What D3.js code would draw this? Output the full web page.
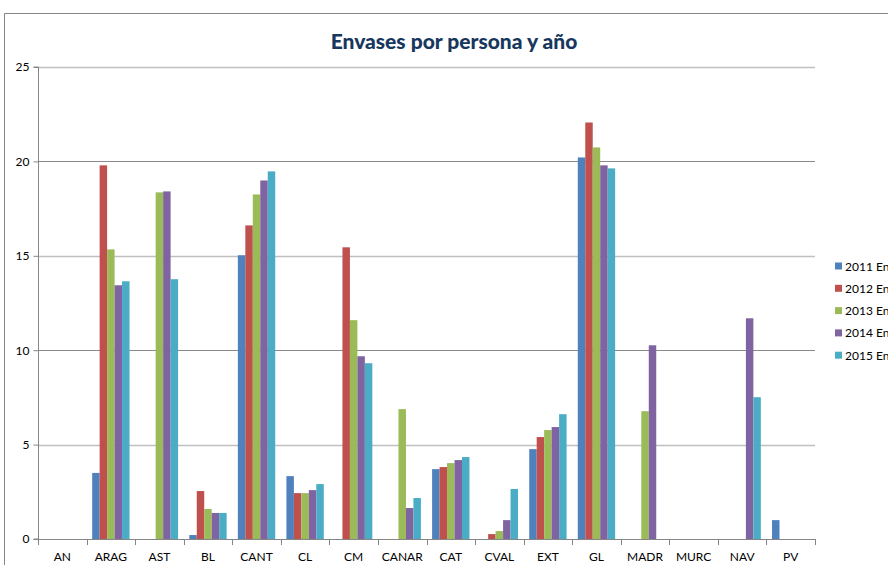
<!DOCTYPE html>
<html><head><meta charset="utf-8">
<script src="https://cdn.jsdelivr.net/npm/d3@7"></script>
<style>html,body{margin:0;padding:0;background:#fff;overflow:hidden}svg{display:block;font-family:Lato,"Open Sans",sans-serif}</style>
</head><body><svg id="c" width="888" height="565"></svg>
<script>
const categories = ["AN","ARAG","AST","BL","CANT","CL","CM","CANAR","CAT","CVAL","EXT","GL","MADR","MURC","NAV","PV"];
const seriesNames = ["2011 Envases","2012 Envases","2013 Envases","2014 Envases","2015 Envases"];
const colors = ["#4F81BD","#C0504D","#9BBB59","#8064A2","#4BACC6"];
const v2011 = [0, 3.5, 0, 0.21, 15.03, 3.33, 0, 0, 3.70, 0, 4.76, 20.21, 0, 0, 0, 1.0];
const v2012 = [0, 19.79, 0, 2.54, 16.61, 2.43, 15.45, 0, 3.81, 0.26, 5.40, 22.06, 0, 0, 0, 0];
const v2013 = [0, 15.34, 18.36, 1.59, 18.25, 2.43, 11.59, 6.88, 4.02, 0.42, 5.77, 20.74, 6.77, 0, 0, 0];
const v2014 = [0, 13.44, 18.41, 1.38, 18.99, 2.59, 9.68, 1.64, 4.18, 1.0, 5.93, 19.79, 10.26, 0, 11.69, 0];
const v2015 = [0, 13.65, 13.76, 1.38, 19.47, 2.91, 9.31, 2.17, 4.34, 2.65, 6.61, 19.63, 0, 0, 7.51, 0];
const yTicks = [0,5,10,15,20,25];
const series = [v2011, v2012, v2013, v2014, v2015];

const svg = d3.select("#c");
const L = 38, R = 815, T = 67, B = 539;

// outer frame
svg.append("path").attr("d","M4.5,565 L4.5,13.5 L888,13.5").attr("fill","none").attr("stroke","#868686").attr("stroke-width",1);

const x = d3.scaleBand().domain(categories).range([L, R]).paddingInner(0).paddingOuter(0);
const y = d3.scaleLinear().domain([0,25]).range([B, T]);
const xs = d3.scaleBand().domain(d3.range(5)).range([x.bandwidth()*0.75/6.5, x.bandwidth()*5.75/6.5]);

// gridlines
svg.append("g").selectAll("line").data(yTicks.filter(d=>d>0)).join("line")
  .attr("x1", L).attr("x2", R)
  .attr("y1", d=>Math.round(y(d))+0.5).attr("y2", d=>Math.round(y(d))+0.5)
  .attr("stroke", d=> (d%10===0) ? "#8a8a8a" : "#c0c0c0")
  .attr("stroke-width", d=> (d%10===0) ? 1 : 1.6);

// bars
const g = svg.append("g");
series.forEach((vals, si) => {
  g.append("g").selectAll("rect").data(categories.map((c,i)=>({c, v: vals[i]})).filter(d=>d.v>0)).join("rect")
    .attr("x", d => x(d.c) + xs(si))
    .attr("width", xs.bandwidth())
    .attr("y", d => y(d.v))
    .attr("height", d => y(0) - y(d.v))
    .attr("fill", colors[si]);
});

// y axis
const ya = svg.append("g").attr("transform", `translate(${L+0.5},0)`)
  .call(d3.axisLeft(y).tickValues(yTicks).tickSize(5).tickPadding(4));
ya.select(".domain").attr("stroke","#868686").attr("d", `M-5,${T}H0V${B}H-5`);
ya.selectAll(".tick line").attr("stroke","#868686");
ya.selectAll(".tick text").attr("font-size",12).attr("fill","#000").attr("font-family","Lato");

// x axis
const xa = svg.append("g").attr("transform", `translate(0,${B+0.5})`)
  .call(d3.axisBottom(x).tickSize(0).tickPadding(13));
xa.select(".domain").attr("stroke","#868686").attr("d", `M${L},0H${R}`);
xa.selectAll(".tick text").attr("font-size",12).attr("fill","#000").attr("font-family","Lato");
svg.append("g").selectAll("line").data(categories.concat(["__end"])).join("line")
  .attr("x1", (d,i)=> Math.round(L + i*x.step())+0.5).attr("x2",(d,i)=> Math.round(L + i*x.step())+0.5)
  .attr("y1", B).attr("y2", B+6).attr("stroke","#868686");

// title
svg.append("text").attr("x", 454).attr("y", 49).attr("text-anchor","middle")
  .attr("font-family","Lato").attr("font-weight","900").attr("font-size",21).attr("fill","#17375E")
  .text("Envases por persona y año");

// legend
const lg = svg.append("g");
seriesNames.forEach((n,i)=>{
  const cy = 266 + i*22.3;
  lg.append("rect").attr("x",835).attr("y",cy-3.5).attr("width",7).attr("height",7).attr("fill",colors[i]);
  lg.append("text").attr("x",845).attr("y",cy+4.5).attr("font-size",12).attr("font-family","Lato").attr("fill","#000").text(n);
});
</script></body></html>
